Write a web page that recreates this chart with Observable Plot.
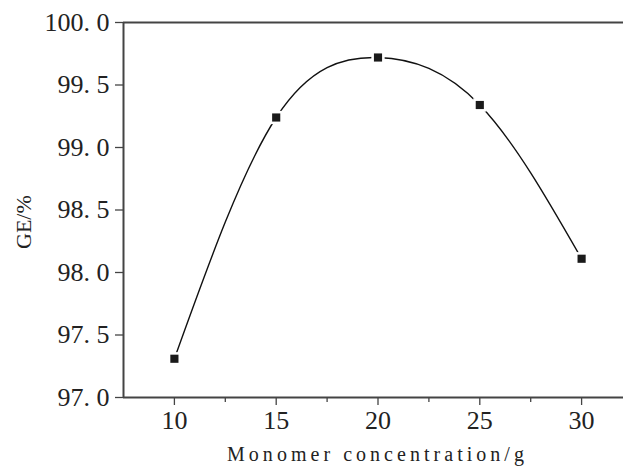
<!DOCTYPE html>
<html>
<head>
<meta charset="utf-8">
<script src="https://cdn.jsdelivr.net/npm/d3@7"></script>
<script src="https://cdn.jsdelivr.net/npm/@observablehq/plot@0.6"></script>
<style>
  html, body { margin: 0; padding: 0; background: #fff; }
  #chart svg { display: block; }
</style>
</head>
<body>
<div id="chart"></div>
<script>
// Data
const concentration = [10, 15, 20, 25, 30];
const ge = [97.31, 99.24, 99.72, 99.34, 98.11];
const xTicks = [10, 15, 20, 25, 30];
const xMinorTicks = [12.5, 17.5, 22.5, 27.5];
const yTicks = [97.0, 97.5, 98.0, 98.5, 99.0, 99.5, 100.0];
const xLabel = "Monomer concentration/g";
const yLabel = "GE/%";

const data = concentration.map((c, i) => ({c, ge: ge[i]}));
const fmt = v => d3.format(".1f")(v).replace(".", ". ");
const axisColor = "#444";
const font = "'Liberation Serif', 'DejaVu Serif', serif";

const chart = Plot.plot({
  width: 623,
  height: 472,
  marginLeft: 123,
  marginTop: 22,
  marginBottom: 75,
  marginRight: 0,
  style: {fontFamily: font, fontSize: "26px", color: "#222", background: "#fff"},
  x: {domain: [7.5, 32.5], range: [123, 632]},
  y: {domain: [97, 100]},
  marks: [
    Plot.axisX({ticks: xTicks, tickSize: 8, tickPadding: 5, label: null, tickFormat: d => String(d), stroke: axisColor, strokeWidth: 1.3, fontSize: 26, fill: "#222"}),
    Plot.axisX({ticks: xMinorTicks, tickSize: 5, label: null, tickFormat: () => "", stroke: axisColor, strokeWidth: 1.3}),
    Plot.axisY({ticks: yTicks, tickSize: 8, tickPadding: 6, label: null, tickFormat: fmt, stroke: axisColor, strokeWidth: 1.3, fontSize: 26, fill: "#222"}),
    Plot.ruleY([97], {stroke: axisColor, strokeWidth: 2}),
    Plot.ruleY([100], {stroke: axisColor, strokeWidth: 2}),
    Plot.ruleX([7.5], {stroke: axisColor, strokeWidth: 2}),
    Plot.line(data, {x: "c", y: "ge", curve: "natural", stroke: "#111", strokeWidth: 1.4}),
    Plot.dot(data, {x: "c", y: "ge", symbol: "square", r: 7.5, fill: "#fff", stroke: "none"}),
    Plot.dot(data, {x: "c", y: "ge", symbol: "square", r: 4.6, fill: "#1a1a1a", stroke: "none"}),
    Plot.text([xLabel], {frameAnchor: "bottom", dx: 4, dy: 63, text: d => d, fontSize: 20, fill: "#222", className: "xlab"}),
    Plot.text([yLabel], {frameAnchor: "left", dx: -100, dy: 39, rotate: -90, text: d => d, fontSize: 22, fill: "#222"})
  ]
});
document.getElementById("chart").appendChild(chart);

// make sure every label uses the serif face
d3.select(chart).selectAll("text").attr("font-family", font);

// stretch the x-axis title to the reference's wide (monospaced-like) setting
const xl = d3.select(chart).select(".xlab text");
if (!xl.empty()) {
  const node = xl.node();
  const len = node.getComputedTextLength();
  const target = 301;
  const n = xLabel.length;
  if (len < target) xl.style("letter-spacing", ((target - len) / n) + "px");
}
</script>
</body>
</html>
